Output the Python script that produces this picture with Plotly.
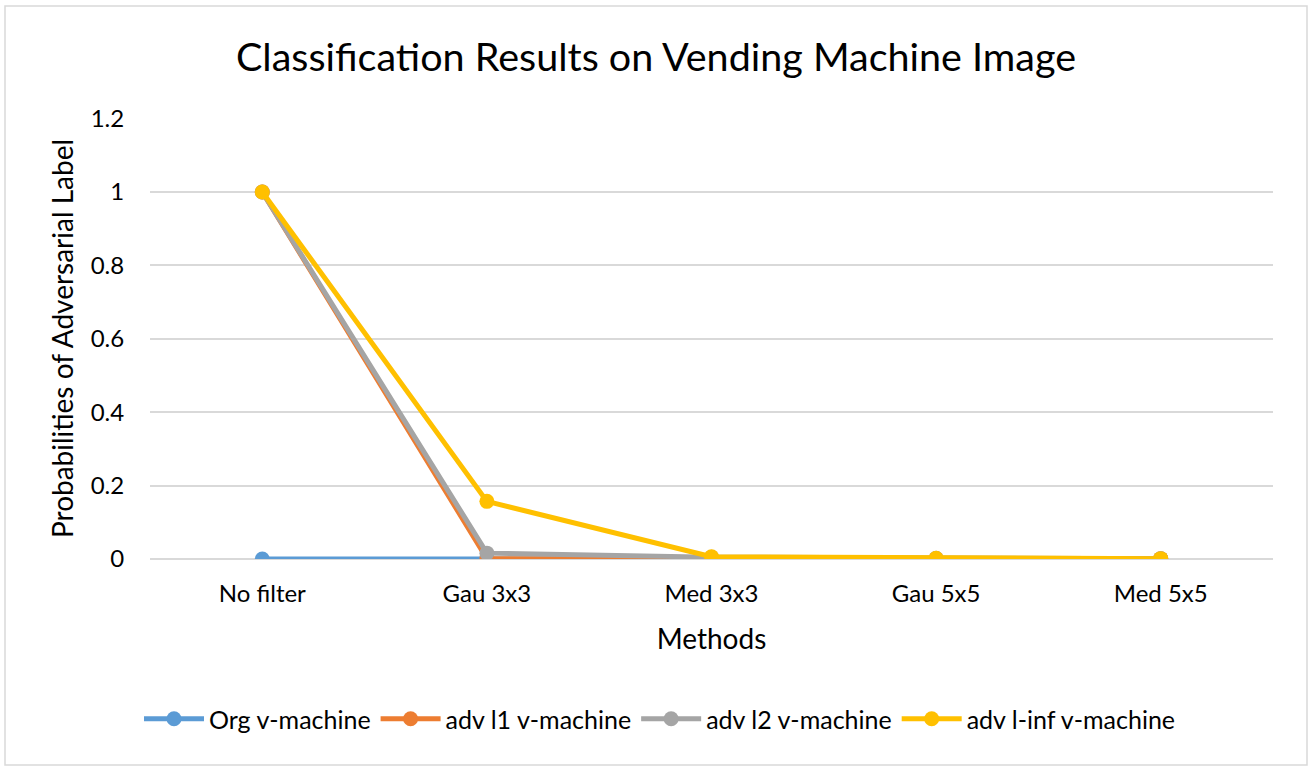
import plotly.graph_objects as go

categories = ["No filter", "Gau 3x3", "Med 3x3", "Gau 5x5", "Med 5x5"]
org = [0, 0, 0, 0, 0]
adv_l1 = [1.0, 0.001, 0.001, 0.001, 0.001]
adv_l2 = [1.0, 0.016, 0.005, 0.002, 0.001]
adv_linf = [1.0, 0.157, 0.006, 0.002, 0.001]
series_names = ["Org v-machine", "adv l1 v-machine", "adv l2 v-machine", "adv l-inf v-machine"]
colors = ["#5B9BD5", "#ED7D31", "#A5A5A5", "#FFC000"]
y_ticks = [0, 0.2, 0.4, 0.6, 0.8, 1, 1.2]
y_labels = ["0", "0.2", "0.4", "0.6", "0.8", "1", "1.2"]

FONT = "Lato"
W, H = 1312, 768
L, R, T, B = 150, 39, 118, 209
pw = W - L - R
ph = H - T - B

fig = go.Figure()
for name, vals, c in zip(series_names, [org, adv_l1, adv_l2, adv_linf], colors):
    fig.add_trace(go.Scatter(
        x=categories, y=vals, name=name, mode="lines+markers",
        line=dict(color=c, width=5),
        marker=dict(color=c, size=15),
    ))

fig.add_shape(type="rect", xref="paper", yref="paper",
              x0=(5 - L) / pw, x1=(1307 - L) / pw,
              y0=(H - B - 765) / ph, y1=(H - B - 6) / ph,
              line=dict(color="#D9D9D9", width=1.5), layer="below")

fig.update_layout(
    width=W, height=H,
    margin=dict(l=L, r=R, t=T, b=B),
    paper_bgcolor="white", plot_bgcolor="white",
    font=dict(family=FONT, color="#000000", size=25),
    title=dict(text="Classification Results on Vending Machine Image",
               x=656 / W, xanchor="center", y=1 - 57 / H, yanchor="middle",
               font=dict(size=39.5, family=FONT, color="#000000")),
    xaxis=dict(type="category", range=[-0.5, 4.5], showgrid=False,
               showline=False, zeroline=False,
               ticks="outside", ticklen=13, tickcolor="rgba(0,0,0,0)",
               tickfont=dict(size=24, family=FONT),
               title=dict(text="Methods", font=dict(size=28, family=FONT), standoff=23)),
    yaxis=dict(range=[0, 1.2015], tickvals=y_ticks, ticktext=y_labels,
               showgrid=True, gridcolor="#D9D9D9", gridwidth=1.5,
               zeroline=True, zerolinecolor="#D9D9D9", zerolinewidth=1.5,
               showline=False,
               ticks="outside", ticklen=20, tickcolor="rgba(0,0,0,0)",
               tickfont=dict(size=24, family=FONT),
               title=dict(text="Probabilities of Adversarial Label",
                          font=dict(size=28, family=FONT), standoff=8)),
    legend=dict(orientation="h", x=(660 - L) / pw, xanchor="center",
                y=-(719 - (H - B)) / ph, yanchor="middle",
                font=dict(size=25, family=FONT), itemwidth=60,
                traceorder="normal"),
    showlegend=True,
)

fig.write_html("out.html", config={"displayModeBar": False},
               post_script="document.body.style.margin='0';document.body.style.overflow='hidden';")
